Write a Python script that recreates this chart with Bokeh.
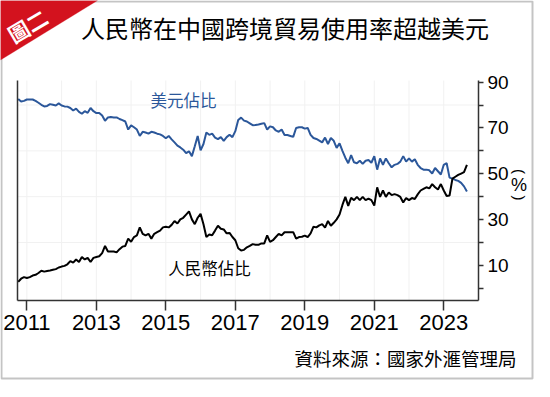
from bokeh.plotting import figure
from bokeh.models import (Range1d, LinearAxis, FixedTicker, Label, PolyAnnotation,
                          ColumnDataSource)
from bokeh.embed import file_html
from bokeh.resources import INLINE

# ---------------- data (monthly, starting Oct 2010) ----------------
start_year = 2010
start_month = 10

usd_share = [
    82.6, 81.5, 81.8, 82.4, 82.4, 82.4, 81.8, 81.0, 80.1, 79.4, 79.6, 80.4,
    80.1, 79.8, 80.7, 79.8, 79.4, 79.3, 78.7, 77.6, 78.4, 77.0, 76.2, 77.3,
    76.6, 78.7, 77.3, 76.5, 76.5, 75.4, 73.1, 74.6, 74.8, 74.6, 74.6, 73.9,
    73.4, 72.8, 69.3, 71.1, 70.3, 69.3, 66.5, 68.3, 68.0, 67.5, 68.3, 68.0,
    67.5, 67.2, 66.5, 65.5, 66.5, 65.0, 63.7, 62.3, 61.5, 60.5, 59.0, 59.8,
    57.7, 62.0, 66.5, 60.2, 63.0, 68.0, 67.0, 67.5, 65.8, 65.1, 66.0, 64.4,
    66.0, 67.0, 66.0, 68.6, 73.5, 74.5, 73.2, 72.8, 72.0, 71.2, 71.3, 71.5,
    71.8, 72.1, 69.3, 70.7, 70.3, 68.9, 68.3, 69.3, 66.9, 66.9, 66.5, 66.1,
    70.0, 70.3, 70.3, 69.7, 70.0, 67.0, 65.6, 65.2, 64.5, 63.7, 65.8, 63.0,
    65.6, 64.4, 61.3, 63.3, 60.0, 57.0, 54.6, 58.1, 55.0, 54.6, 55.7, 54.3,
    55.7, 56.0, 54.8, 57.7, 51.8, 56.7, 53.9, 56.7, 54.6, 52.8, 53.9, 54.3,
    55.3, 57.7, 55.3, 56.7, 55.3, 56.3, 53.9, 52.5, 51.8, 51.8, 51.5, 50.1,
    52.5, 51.1, 49.7, 53.9, 54.6, 48.3, 47.9, 47.3, 46.9, 46.0, 44.5, 42.3,
]

rmb_share = [
    2.8, 4.2, 4.9, 4.5, 4.9, 5.6, 5.9, 6.7, 7.7, 7.3, 7.6, 7.8,
    8.1, 8.4, 9.1, 9.5, 9.8, 10.5, 11.9, 11.2, 12.6, 11.5, 13.7, 12.6,
    13.3, 11.5, 13.3, 13.7, 14.0, 15.4, 18.5, 16.1, 16.1, 16.1, 15.7, 17.1,
    18.2, 18.5, 21.7, 20.3, 22.4, 23.1, 26.6, 23.8, 23.1, 23.8, 21.7, 23.8,
    24.5, 25.2, 26.6, 26.9, 26.6, 27.7, 29.4, 28.3, 30.1, 30.8, 32.2, 33.6,
    30.1, 28.0, 30.8, 32.5, 28.0, 22.4, 23.5, 23.2, 25.2, 27.3, 26.0, 25.7,
    24.0, 24.2, 22.4, 21.0, 17.5, 16.5, 16.8, 17.9, 18.5, 19.3, 19.0, 19.0,
    19.6, 19.6, 23.1, 20.3, 21.0, 22.4, 23.8, 23.1, 24.5, 24.5, 24.5, 24.5,
    21.7, 22.4, 22.5, 23.0, 22.4, 24.0, 26.9, 26.6, 27.5, 28.0, 26.5, 29.4,
    27.3, 28.6, 30.1, 32.2, 36.4, 39.9, 36.0, 39.5, 38.5, 39.9, 38.5, 39.9,
    38.5, 39.2, 38.5, 36.1, 44.1, 39.9, 42.7, 39.9, 41.8, 40.7, 41.1, 40.7,
    39.9, 37.5, 39.4, 38.5, 39.4, 39.0, 41.0, 42.7, 43.4, 44.1, 43.6, 45.5,
    44.1, 43.1, 45.5, 42.7, 40.3, 40.5, 47.9, 48.7, 49.5, 50.1, 50.7, 53.9,
]

x_ticks = [2011, 2013, 2015, 2017, 2019, 2021, 2023]
y_ticks = [0, 10, 20, 30, 40, 50, 60, 70, 80, 90]
y_labelled = [10, 30, 50, 70, 90]
x_grid = list(range(2011, 2024))
y_grid = [20, 40, 60, 80]

title_text = "人民幣在中國跨境貿易使用率超越美元"
badge_text = "圖二"
usd_label = "美元佔比"
rmb_label = "人民幣佔比"
source_text = "資料來源：國家外滙管理局"

# ---------------- layout ----------------
W, H = 534, 381
FL, FR, FT, FB = 17, 478, 80, 300      # data-area edges in canvas px (from top-left)
X_LO, X_HI = 2010.73, 2024.0           # data limits at those edges
Y_LO, Y_HI = -5.3, 90.7

ppx = (FR - FL) / (X_HI - X_LO)
ppy = (FB - FT) / (Y_HI - Y_LO)
x_range = Range1d(X_LO - FL / ppx, X_HI + (W - FR) / ppx)
y_range = Range1d(Y_LO - (H - FB) / ppy, Y_HI + FT / ppy)

BLUE = "#2b579a"
AX = "#333333"
CJK = "Noto Sans CJK TC"
LAT = "Liberation Sans"

x = [start_year + (start_month - 1 + i) / 12 for i in range(len(usd_share))]
src = ColumnDataSource(dict(x=x, usd=usd_share, rmb=rmb_share))

p = figure(width=W, height=H, output_backend="svg", toolbar_location=None,
           x_range=x_range, y_range=y_range, x_axis_location=None, y_axis_location=None,
           min_border=0)
p.outline_line_color = None
p.background_fill_color = "white"
p.border_fill_color = "white"
p.grid.visible = False

# faint grid
p.segment(x0=x_grid, y0=[Y_LO] * len(x_grid), x1=x_grid, y1=[Y_HI] * len(x_grid),
          line_color="#f1f1f1", line_width=1)
p.segment(x0=[X_LO] * len(y_grid), y0=y_grid, x1=[X_HI] * len(y_grid), y1=y_grid,
          line_color="#f1f1f1", line_width=1)

# bottom axis
xa = LinearAxis(fixed_location=Y_LO, bounds=(X_LO, X_HI))
xa.ticker = FixedTicker(ticks=x_ticks)
xa.major_label_overrides = {t: str(t) for t in x_ticks}
xa.major_tick_in = 0
xa.major_tick_out = 10
xa.minor_tick_line_color = None
xa.axis_line_color = AX
xa.axis_line_width = 1.5
xa.major_tick_line_color = AX
xa.major_tick_line_width = 1.5
xa.major_label_text_font = LAT
xa.major_label_text_font_size = "22px"
xa.major_label_text_color = "black"
xa.major_label_standoff = 4
p.add_layout(xa, "below")

# right axis
ya = LinearAxis(fixed_location=X_HI, bounds=(Y_LO, Y_HI))
ya.ticker = FixedTicker(ticks=y_ticks)
ya.major_label_overrides = {t: (str(t) if t in y_labelled else "") for t in y_ticks}
ya.major_tick_in = 0
ya.major_tick_out = 5
ya.minor_tick_line_color = None
ya.axis_line_color = AX
ya.axis_line_width = 1.5
ya.major_tick_line_color = AX
ya.major_tick_line_width = 1.5
ya.major_label_text_font = LAT
ya.major_label_text_font_size = "19px"
ya.major_label_text_color = "black"
ya.major_label_standoff = 4
p.add_layout(ya, "right")

# left axis: a bare line
la = LinearAxis(fixed_location=X_LO, bounds=(Y_LO, Y_HI), ticker=FixedTicker(ticks=[]),
                major_label_text_font_size="0px", major_tick_line_color=None,
                minor_tick_line_color=None, axis_line_color=AX, axis_line_width=1.5)
p.add_layout(la, "left")

# lines
p.line("x", "usd", source=src, line_color=BLUE, line_width=2)
p.line("x", "rmb", source=src, line_color="black", line_width=2)


def sc(fx, fy):
    """canvas px (from top-left) -> screen units (from frame bottom-left)"""
    return fx, H - fy


def add_text(fx, fy, text, size, color="black", font=CJK, angle=0.0,
             align="center", baseline="middle", style="normal"):
    sx, sy = sc(fx, fy)
    p.add_layout(Label(x=sx, y=sy, x_units="screen", y_units="screen", text=text,
                       text_font=font, text_font_size=f"{size}px", text_color=color,
                       text_align=align, text_baseline=baseline, angle=angle,
                       text_font_style=style))


def add_poly(pts, **kw):
    xs, ys = zip(*[sc(a, b) for a, b in pts])
    p.add_layout(PolyAnnotation(xs=list(xs), ys=list(ys), xs_units="screen",
                                ys_units="screen", **kw))


# outer border
add_poly([(1, 1), (532, 1), (532, 378), (1, 378)],
         fill_alpha=0, line_color="#3a3a3a", line_width=2)

# red corner triangle with badge text
add_poly([(0, 0), (97, 0), (0, 59.5)],
         fill_color="#d3121e", fill_alpha=1, line_color="#d3121e", line_width=1)
add_text(27, 25, badge_text, 21, color="white", angle=0.53, style="bold")

# title and texts
add_text(284.5, 27, title_text, 24)
add_text(183, 99, usd_label, 16.5, color=BLUE)
add_text(209, 267, rmb_label, 16.5)
add_text(405, 357, source_text, 18.5)

# vertical (%) unit
add_text(518.5, 171, "(", 15, font=LAT, angle=-1.5708)
add_text(518.5, 184.5, "%", 18, font=LAT)
add_text(518.5, 197.5, ")", 15, font=LAT, angle=-1.5708)

open("out.html", "w").write(file_html(p, INLINE))
